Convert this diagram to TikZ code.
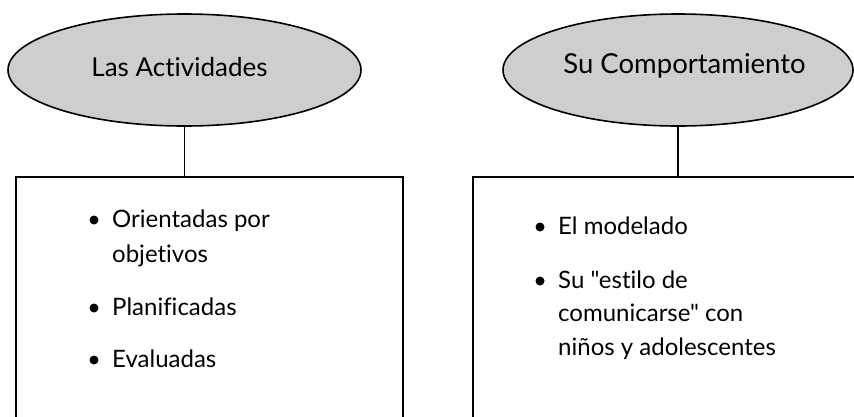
\documentclass[tikz,border=0pt]{standalone}
\usepackage{fontspec}
\newfontfamily\latoplain{Lato}[Ligatures=NoCommon]
\usetikzlibrary{shapes.geometric}
\definecolor{ovalfill}{RGB}{206,206,206}
\tikzset{
  oval/.style={ellipse, draw=black, line width=1.6pt, fill=ovalfill, inner sep=0pt},
  panel/.style={rectangle, draw=black, line width=1.6pt, inner sep=0pt},
  titletext/.style={font=\latoplain\fontsize{26}{30}\selectfont, inner sep=0pt, anchor=base},
  itemtext/.style={font=\latoplain\fontsize{24}{35}\selectfont, inner sep=0pt, anchor=base west, align=left},
  dot/.style={circle, fill=black, inner sep=0pt, minimum size=9pt},
  link/.style={line width=1.6pt}
}
\begin{document}
\begin{tikzpicture}[x=1pt,y=-1pt]
\clip (0,0) rectangle (854,416);
\fill[white] (0,0) rectangle (854,416);
% ovals
\node[oval, minimum width=353pt, minimum height=112pt] (la) at (184.5,70) {};
\node[oval, minimum width=350pt, minimum height=112pt] (ra) at (678,70) {};
\node[titletext] (lt) at (179.5,76) {Las Actividades};
\node[titletext, font=\latoplain\fontsize{27.5}{30}\selectfont] (rt) at (684.5,73) {Su Comportamiento};
% panels
\node[panel, minimum width=387pt, minimum height=263pt] (lb) at (209.5,308.5) {};
\node[panel, minimum width=407pt, minimum height=263pt] (rb) at (676.5,308.5) {};
\draw[link] (la.south) -- (la.south |- lb.north);
\draw[link] (ra.south) -- (ra.south |- rb.north);
% left items (base anchor = last line's baseline)
\node[dot] (b1) at (94,220) {};
\node[itemtext] (i1) at (112,262) {Orientadas por\\objetivos};
\node[dot] (b2) at (94,308) {};
\node[itemtext] (i2) at (112,315) {Planificadas};
\node[dot] (b3) at (94,360) {};
\node[itemtext] (i3) at (112,367) {Evaluadas};
% right items
\node[dot] (c1) at (540,227) {};
\node[itemtext] (j1) at (558,234) {El modelado};
\node[dot] (c2) at (540,281) {};
\node[itemtext, font=\latoplain\fontsize{24}{33.5}\selectfont] (j2) at (558,355) {Su "estilo de\\comunicarse" con\\niños y adolescentes};
\end{tikzpicture}
\end{document}
